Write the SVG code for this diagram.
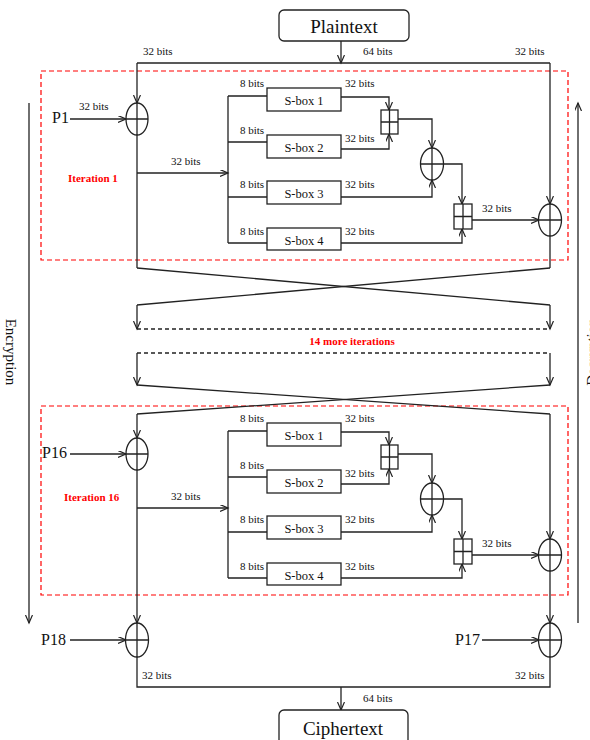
<svg xmlns="http://www.w3.org/2000/svg" width="590" height="740" viewBox="0 0 590 740">
<defs>
<marker id="ah" markerUnits="userSpaceOnUse" markerWidth="10" markerHeight="10" refX="8" refY="3.5" orient="auto">
<path d="M0,0 L8,3.5 L0,7" fill="none" stroke="#222" stroke-width="1.2"/>
</marker>
<style>
.ln{fill:none;stroke:#222;stroke-width:1.3}
.ar{fill:none;stroke:#222;stroke-width:1.3;marker-end:url(#ah)}
.dash{fill:none;stroke:#222;stroke-width:1.5;stroke-dasharray:4,3}
.red{fill:none;stroke:#f00;stroke-width:1.2;stroke-dasharray:5,3}
.box{fill:#fff;stroke:#222;stroke-width:1.3}
.xor{fill:#fff;stroke:#222;stroke-width:1.3}
.t{font-family:"Liberation Serif",serif;fill:#111}
.lbl{font-size:11px}
.sb{font-size:12.5px}
.big{font-size:19px}
.p{font-size:16px}
.it{font-size:11px;font-weight:bold;fill:#f00}
.side{font-size:15px}
</style>
</defs>
<rect width="590" height="740" fill="#fff"/>

<g id="iteration1-frame"><rect class="red" x="41" y="71" width="527" height="189"/><text class="t it" x="68" y="182">Iteration 1</text></g>
<g id="iteration16-frame"><rect class="red" x="41" y="406" width="527" height="189"/><text class="t it" x="64" y="501">Iteration 16</text></g>

<g id="connectors">
<!-- top -->
<path class="ar" d="M341,41 V63"/>
<path class="ln" d="M137,63 H550"/>
<path class="ar" d="M137,63 V103"/>
<path class="ar" d="M550,63 V204"/>
<path class="ar" d="M29,103 V623"/>
<path class="ar" d="M578,623 V103"/>
<!-- iteration 1 -->
<path class="ar" d="M70,119 H126"/>
<path class="ln" d="M137,135 V268"/>
<path class="ar" d="M137,173 H228"/>
<path class="ln" d="M228,96 V243 M228,96 H267 M228,142 H267 M228,197 H267 M228,243 H267"/>
<path class="ar" d="M341,97 H389 V110"/>
<path class="ar" d="M341,149 H389 V134"/>
<path class="ar" d="M398,119 H432 V148"/>
<path class="ar" d="M341,197 H432 V180"/>
<path class="ar" d="M443,164 H462 V204"/>
<path class="ar" d="M341,243 H462 V229"/>
<path class="ar" d="M472,220 H539"/>
<path class="ln" d="M550,236 V268"/>
<!-- crossings -->
<path class="ln" d="M137,268 L550,305"/>
<path class="ln" d="M550,268 L137,305"/>
<path class="ar" d="M137,305 V329"/>
<path class="ar" d="M550,305 V329"/>
<path class="dash" d="M137,329 H550"/>
<path class="dash" d="M137,353 H550"/>
<path class="ar" d="M137,353 V385"/>
<path class="ar" d="M550,353 V385"/>
<path class="ln" d="M137,385 L550,414"/>
<path class="ln" d="M550,385 L137,414"/>
<!-- iteration 16 -->
<path class="ar" d="M137,414 V438"/>
<path class="ar" d="M550,414 V539"/>
<path class="ar" d="M70,454 H126"/>
<path class="ar" d="M137,508 H228"/>
<path class="ln" d="M228,431 V578 M228,431 H267 M228,477 H267 M228,532 H267 M228,578 H267"/>
<path class="ar" d="M341,432 H389 V445"/>
<path class="ar" d="M341,484 H389 V469"/>
<path class="ar" d="M398,454 H432 V483"/>
<path class="ar" d="M341,532 H432 V515"/>
<path class="ar" d="M443,499 H462 V539"/>
<path class="ar" d="M341,578 H462 V564"/>
<path class="ar" d="M472,555 H539"/>
<!-- final -->
<path class="ar" d="M137,470 V623"/>
<path class="ar" d="M550,571 V623"/>
<path class="ar" d="M70,640 H126"/>
<path class="ar" d="M482,640 H539"/>
<path class="ln" d="M137,657 V687 H550 V657"/>
<path class="ar" d="M341,687 V710"/>
</g>

<g id="plaintext"><rect class="box" x="279" y="10" width="130" height="31" rx="5"/><text class="t big" x="344" y="33" text-anchor="middle">Plaintext</text></g>
<g id="ciphertext"><rect class="box" x="279" y="710" width="129" height="36" rx="5"/><text class="t big" x="343" y="735" text-anchor="middle">Ciphertext</text></g>

<!-- iteration 1 nodes -->
<g id="xor1a"><ellipse class="xor" cx="137" cy="119" rx="11" ry="16"/><path class="ln" d="M126,119 H148 M137,103 V135"/></g>
<g id="sbox1-1"><rect class="box" x="267" y="88" width="74" height="23"/><text class="t sb" x="304" y="105" text-anchor="middle">S-box 1</text></g>
<g id="sbox1-2"><rect class="box" x="267" y="135" width="74" height="23"/><text class="t sb" x="304" y="152" text-anchor="middle">S-box 2</text></g>
<g id="sbox1-3"><rect class="box" x="267" y="181" width="74" height="23"/><text class="t sb" x="304" y="198" text-anchor="middle">S-box 3</text></g>
<g id="sbox1-4"><rect class="box" x="267" y="228" width="74" height="22"/><text class="t sb" x="304" y="245" text-anchor="middle">S-box 4</text></g>
<g id="add1a"><rect class="box" x="381" y="110" width="17" height="24"/><path class="ln" d="M381,122 H398 M389.5,110 V134"/></g>
<g id="xor1b"><ellipse class="xor" cx="432" cy="164" rx="11.5" ry="16"/><path class="ln" d="M420.5,164 H443.5 M432,148 V180"/></g>
<g id="add1b"><rect class="box" x="454" y="204" width="18" height="25"/><path class="ln" d="M454,216.5 H472 M463,204 V229"/></g>
<g id="xor1c"><ellipse class="xor" cx="550" cy="220" rx="11.5" ry="16"/><path class="ln" d="M538.5,220 H561.5 M550,204 V236"/></g>

<!-- iteration 16 nodes -->
<g id="xor16a"><ellipse class="xor" cx="137" cy="454" rx="11" ry="16"/><path class="ln" d="M126,454 H148 M137,438 V470"/></g>
<g id="sbox16-1"><rect class="box" x="267" y="423" width="74" height="23"/><text class="t sb" x="304" y="440" text-anchor="middle">S-box 1</text></g>
<g id="sbox16-2"><rect class="box" x="267" y="470" width="74" height="23"/><text class="t sb" x="304" y="487" text-anchor="middle">S-box 2</text></g>
<g id="sbox16-3"><rect class="box" x="267" y="516" width="74" height="23"/><text class="t sb" x="304" y="533" text-anchor="middle">S-box 3</text></g>
<g id="sbox16-4"><rect class="box" x="267" y="563" width="74" height="22"/><text class="t sb" x="304" y="580" text-anchor="middle">S-box 4</text></g>
<g id="add16a"><rect class="box" x="381" y="445" width="17" height="24"/><path class="ln" d="M381,457 H398 M389.5,445 V469"/></g>
<g id="xor16b"><ellipse class="xor" cx="432" cy="499" rx="11.5" ry="16"/><path class="ln" d="M420.5,499 H443.5 M432,483 V515"/></g>
<g id="add16b"><rect class="box" x="454" y="539" width="18" height="25"/><path class="ln" d="M454,551.5 H472 M463,539 V564"/></g>
<g id="xor16c"><ellipse class="xor" cx="550" cy="555" rx="11.5" ry="16"/><path class="ln" d="M538.5,555 H561.5 M550,539 V571"/></g>

<!-- final xors -->
<g id="xor18"><ellipse class="xor" cx="137" cy="640" rx="11.5" ry="17"/><path class="ln" d="M125.5,640 H148.5 M137,623 V657"/></g>
<g id="xor17"><ellipse class="xor" cx="550" cy="640" rx="11.5" ry="17"/><path class="ln" d="M538.5,640 H561.5 M550,623 V657"/></g>

<g id="labels">
<text class="t p" x="52" y="123">P1</text>
<text class="t p" x="42" y="458">P16</text>
<text class="t p" x="41" y="645">P18</text>
<text class="t p" x="455" y="645">P17</text>
<text class="t lbl" x="143" y="55">32 bits</text>
<text class="t lbl" x="363" y="55">64 bits</text>
<text class="t lbl" x="515" y="55">32 bits</text>
<text class="t lbl" x="79" y="110">32 bits</text>
<text class="t lbl" x="171" y="165">32 bits</text>
<text class="t lbl" x="240" y="87">8 bits</text>
<text class="t lbl" x="240" y="134">8 bits</text>
<text class="t lbl" x="240" y="188">8 bits</text>
<text class="t lbl" x="240" y="235">8 bits</text>
<text class="t lbl" x="345" y="87">32 bits</text>
<text class="t lbl" x="345" y="142">32 bits</text>
<text class="t lbl" x="345" y="188">32 bits</text>
<text class="t lbl" x="345" y="235">32 bits</text>
<text class="t lbl" x="482" y="212">32 bits</text>
<text class="t lbl" x="171" y="500">32 bits</text>
<text class="t lbl" x="240" y="422">8 bits</text>
<text class="t lbl" x="240" y="469">8 bits</text>
<text class="t lbl" x="240" y="523">8 bits</text>
<text class="t lbl" x="240" y="570">8 bits</text>
<text class="t lbl" x="345" y="422">32 bits</text>
<text class="t lbl" x="345" y="477">32 bits</text>
<text class="t lbl" x="345" y="523">32 bits</text>
<text class="t lbl" x="345" y="570">32 bits</text>
<text class="t lbl" x="482" y="547">32 bits</text>
<text class="t lbl" x="142" y="679">32 bits</text>
<text class="t lbl" x="515" y="679">32 bits</text>
<text class="t lbl" x="363" y="702">64 bits</text>
<text class="t it" x="352" y="345" text-anchor="middle">14 more  iterations</text>
<text class="t side" transform="translate(6,352) rotate(90)" text-anchor="middle">Encryption</text>
<text class="t side" transform="translate(597,352) rotate(-90)" text-anchor="middle">Decryption</text>
</g>
</svg>
